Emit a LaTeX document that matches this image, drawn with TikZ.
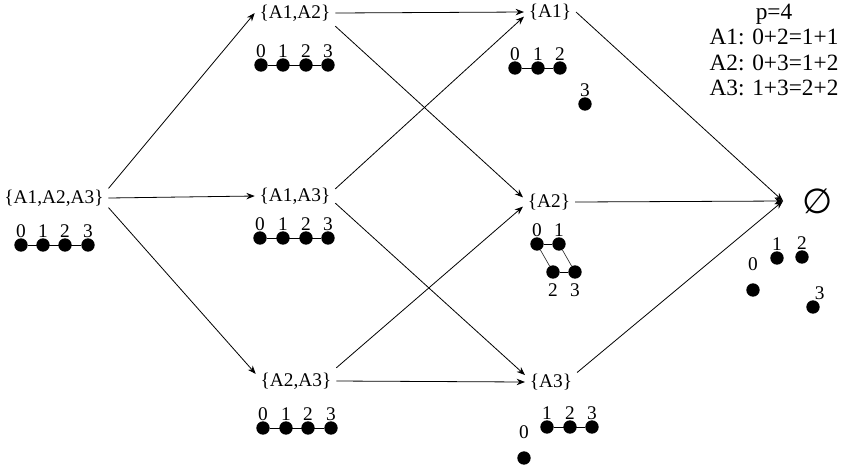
\documentclass[tikz,border=0pt]{standalone}
\usepackage{fontspec}
\setmainfont{Liberation Serif}
\newfontfamily\emptyfont{DejaVu Sans}
\usetikzlibrary{arrows.meta}
\tikzset{
    set/.style={inner sep=3.5pt, font=\fontsize{14.5}{16}\selectfont},
    dot/.style={circle, fill, inner sep=0pt, minimum size=10pt, label distance=5pt},
    every label/.style={inner sep=0pt, font=\fontsize{14.5}{16}\selectfont},
    arr/.style={-{Stealth[length=2.2mm,width=1.7mm]}, line width=0.6pt}
}

\begin{document}
\begin{tikzpicture}[x=0.75pt, y=-0.75pt]
    \useasboundingbox (0,0) rectangle (842,469);
    % the sets
    \node[set] (s123) at (54,198) {\{A1,A2,A3\}};
    \node[set] (s12) at (295,13) {\{A1,A2\}};
    \node[set] (s13) at (295,196) {\{A1,A3\}};
    \node[set] (s23) at (296,381) {\{A2,A3\}};
    \node[set] (s1) at (550,12) {\{A1\}};
    \node[set] (s2) at (549,202) {\{A2\}};
    \node[set] (s3) at (551,382) {\{A3\}};
    \node[inner sep=0pt, font=\emptyfont\fontsize{26}{28}\selectfont] (none) at (818,201) {∅};
    \coordinate (tip) at (783,201);
    \node[align=center, inner sep=0pt, font=\fontsize{17.5}{19.2}\selectfont] (info) at (774,50)
        {p=4\\A1: 0+2=1+1\\A2: 0+3=1+2\\A3: 1+3=2+2};

    % arrows
    \draw[arr] (s123.10) -- (s12.west);
    \draw[arr] (s123.east) -- (s13.west);
    \draw[arr] (s123.-10) -- (s23.170);
    \draw[arr] (s12.east) -- (s1.west);
    \draw[arr] (s12.south east) -- (s2.170);
    \draw[arr] (s13.10) -- (s1.190);
    \draw[arr] (s13.-10) -- (s3.165);
    \draw[arr] (s23.north east) -- (s2.190);
    \draw[arr] (s23.east) -- (s3.west);
    \draw[arr] (s1.east) -- (tip);
    \draw[arr] (s2.east) -- (tip);
    \draw[arr] (s3.20) -- (tip);

    % residues mod 4
    \node[dot, label=above:0] (d123-0) at (21,245) {};
    \node[dot, label=above:1] (d123-1) at (43,245) {};
    \node[dot, label=above:2] (d123-2) at (65,245) {};
    \node[dot, label=above:3] (d123-3) at (88,245) {};
    \draw (d123-0) -- (d123-3);

    \node[dot, label=above:0] (d12-0) at (261,65) {};
    \node[dot, label=above:1] (d12-1) at (283,65) {};
    \node[dot, label=above:2] (d12-2) at (306,65) {};
    \node[dot, label=above:3] (d12-3) at (328,65) {};
    \draw (d12-0) -- (d12-3);

    \node[dot, label=above:0] (d13-0) at (260,238) {};
    \node[dot, label=above:1] (d13-1) at (283,238) {};
    \node[dot, label=above:2] (d13-2) at (306,238) {};
    \node[dot, label=above:3] (d13-3) at (328,238) {};
    \draw (d13-0) -- (d13-3);

    \node[dot, label=above:0] (d23-0) at (263,428) {};
    \node[dot, label=above:1] (d23-1) at (286,428) {};
    \node[dot, label=above:2] (d23-2) at (308,428) {};
    \node[dot, label=above:3] (d23-3) at (331,428) {};
    \draw (d23-0) -- (d23-3);

    \node[dot, label=above:0] (d1-0) at (515,68) {};
    \node[dot, label=above:1] (d1-1) at (538,68) {};
    \node[dot, label=above:2] (d1-2) at (560,68) {};
    \node[dot, label=above:3] (d1-3) at (585,104) {};
    \draw (d1-0) -- (d1-2);

    \node[dot, label=above:0] (d2-0) at (537,244) {};
    \node[dot, label=above:1] (d2-1) at (559,244) {};
    \node[dot, label={[label distance=3pt]below:2}] (d2-2) at (553,272) {};
    \node[dot, label={[label distance=3pt]below:3}] (d2-3) at (575,272) {};
    \draw (d2-0) -- (d2-1);
    \draw (d2-2) -- (d2-3);
    \draw (d2-0) -- (d2-2);
    \draw (d2-1) -- (d2-3);

    \node[dot, label={[label distance=9pt]above:0}] (d3-0) at (524,458) {};
    \node[dot, label=above:1] (d3-1) at (547,427) {};
    \node[dot, label=above:2] (d3-2) at (570,427) {};
    \node[dot, label=above:3] (d3-3) at (592,427) {};
    \draw (d3-1) -- (d3-3);

    \node[dot, label={[label distance=9pt]above:0}] (d0-0) at (753,290) {};
    \node[dot, label=above:1] (d0-1) at (777,258) {};
    \node[dot, label=above:2] (d0-2) at (802,257) {};
    \node[dot, label={[xshift=5pt]above:3}] (d0-3) at (813,307) {};
\end{tikzpicture}
\end{document}
